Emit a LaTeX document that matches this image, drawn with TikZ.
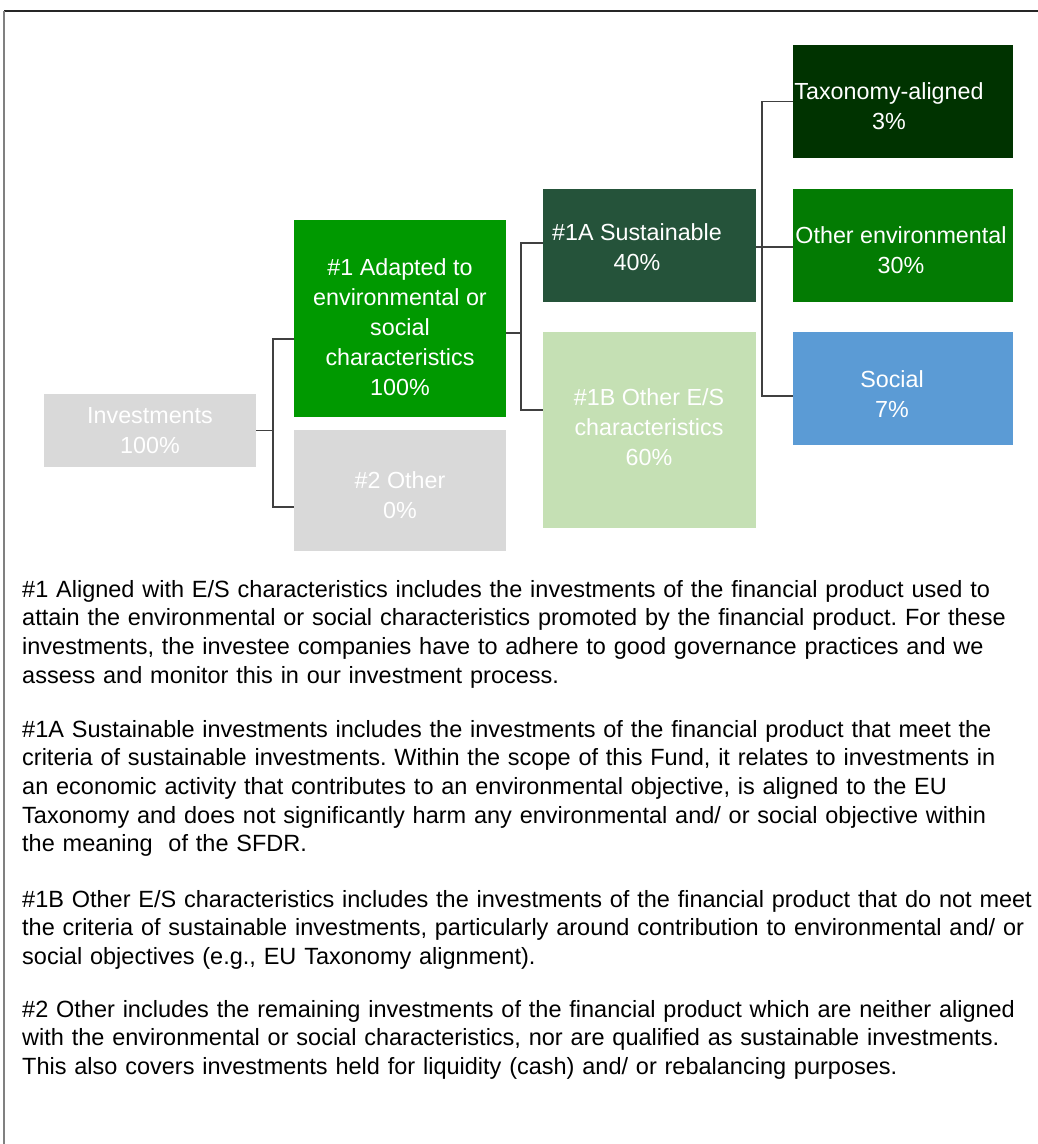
\documentclass[tikz,border=0pt]{standalone}
\usepackage{fontspec}
\setmainfont{Liberation Sans}
\definecolor{boxgray}{HTML}{D9D9D9}
\definecolor{brightgreen}{HTML}{009900}
\definecolor{sustgreen}{HTML}{25533A}
\definecolor{lightgreen}{HTML}{C5E0B4}
\definecolor{taxgreen}{HTML}{003300}
\definecolor{envgreen}{HTML}{037B03}
\definecolor{socblue}{HTML}{5B9BD5}
\definecolor{connline}{HTML}{404040}
\definecolor{framegray}{HTML}{808080}
\begin{document}
\frenchspacing
\begin{tikzpicture}[x=1pt,y=-1pt,
  box/.style={draw=none, inner sep=0pt, outer sep=0pt},
  btxt/.style={text=white, align=center, inner sep=0pt, font=\fontsize{23.3}{30}\selectfont},
  para/.style={anchor=base west, inner sep=0pt, text width=1030pt, align=left, font=\fontsize{23.5}{28.7}\selectfont},
  conn/.style={draw=connline, line width=1.2pt},
  frame/.style={line width=1.3pt}
]
\useasboundingbox (0,0) rectangle (1038,1144);
\fill[white] (0,0) rectangle (1038,1144);
% frame
\coordinate (ftl) at (4,11);
\coordinate (ftr) at (1038,11);
\coordinate (fbl) at (4,1144);
\draw[frame, draw=black!85] (ftl) -- (ftr);
\draw[frame, draw=framegray] (ftl) -- (fbl);

% boxes
\node[box, fill=boxgray, minimum width=212pt, minimum height=73pt] (inv) at (150,430.5) {};
\node[box, fill=brightgreen, minimum width=212pt, minimum height=197pt] (n1) at (400,318.5) {};
\node[box, fill=boxgray, minimum width=212pt, minimum height=121pt] (n2) at (400,490.5) {};
\node[box, fill=sustgreen, minimum width=213pt, minimum height=113pt] (n1a) at (649.5,245.5) {};
\node[box, fill=lightgreen, minimum width=213pt, minimum height=196pt] (n1b) at (649.5,430) {};
\node[box, fill=taxgreen, minimum width=220pt, minimum height=113pt] (tax) at (903,101.5) {};
\node[box, fill=envgreen, minimum width=220pt, minimum height=113pt] (oenv) at (903,245.5) {};
\node[box, fill=socblue, minimum width=220pt, minimum height=113pt] (soc) at (903,388.5) {};

% box texts
\node[btxt] (inv-t) at (150,431) {Investments\\100\%};
\node[btxt] (n1-t) at (400,327) {\#1 Adapted to\\environmental or\\social\\characteristics\\100\%};
\node[btxt] (n2-t) at (400,495) {\#2 Other\\0\%};
\node[btxt] (n1a-t) at (637,247.5) {\#1A Sustainable\\40\%};
\node[btxt] (n1b-t) at (649,427.5) {\#1B Other E/S\\characteristics\\60\%};
\node[btxt] (tax-t) at (889,106) {Taxonomy-aligned\\3\%};
\node[btxt] (oenv-t) at (901,250) {Other environmental\\30\%};
\node[btxt] (soc-t) at (892,394) {Social\\7\%};

% connectors
\coordinate (j1) at (273,430.5);
\coordinate (j2) at (521,333);
\coordinate (j3) at (762,247);
\draw[conn] (inv.east) -- (j1);
\draw[conn] ([yshift=-20.5pt]n1.west) -| (j1) |- ([yshift=-16.5pt]n2.west);
\draw[conn] ([yshift=-14.5pt]n1.east) -- (j2);
\draw[conn] ([yshift=2.5pt]n1a.west) -| (j2) |- ([yshift=20pt]n1b.west);
\draw[conn] ([yshift=-1.5pt]n1a.east) -- ([yshift=-1.5pt]oenv.west);
\draw[conn] (tax.west) -| (j3) |- ([yshift=-7.5pt]soc.west);

% paragraphs
\node[para] (p1) at (22,597) {\#1 Aligned with E/S characteristics includes the investments of the financial product used to\\attain the environmental or social characteristics promoted by the financial product. For these\\investments, the investee companies have to adhere to good governance practices and we\\assess and monitor this in our investment process.};
\node[para] (p2) at (22,737) {\#1A Sustainable investments includes the investments of the financial product that meet the\\criteria of sustainable investments. Within the scope of this Fund, it relates to investments in\\an economic activity that contributes to an environmental objective, is aligned to the EU\\Taxonomy and does not significantly harm any environmental and/ or social objective within\\the meaning\ \ of the SFDR.};
\node[para] (p3) at (22,907) {\#1B Other E/S characteristics includes the investments of the financial product that do not meet\\the criteria of sustainable investments, particularly around contribution to environmental and/ or\\social objectives (e.g., EU Taxonomy alignment).};
\node[para] (p4) at (22,1017) {\#2 Other includes the remaining investments of the financial product which are neither aligned\\with the environmental or social characteristics, nor are qualified as sustainable investments.\\This also covers investments held for liquidity (cash) and/ or rebalancing purposes.};
\end{tikzpicture}
\end{document}
